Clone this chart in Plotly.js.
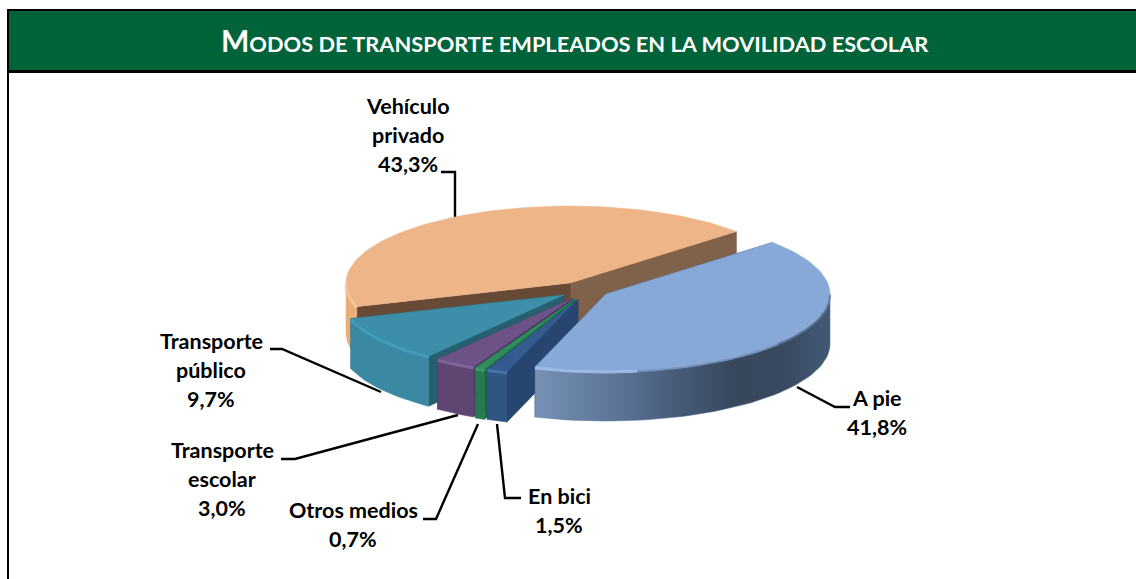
<!DOCTYPE html>
<html>
<head>
<meta charset="utf-8">
<script src="https://cdn.plot.ly/plotly-3.0.1.min.js"></script>
<style>html,body{margin:0;padding:0;background:#fff}#c{width:1136px;height:579px}</style>
</head>
<body>
<div id="c"></div>
<script>
// ---- data ----
const categories = ["A pie", "En bici", "Otros medios", "Transporte escolar", "Transporte público", "Vehículo privado"];
const shares = [41.8, 1.5, 0.7, 3.0, 9.7, 43.3];
const labelLines = [["A pie"], ["En bici"], ["Otros medios"], ["Transporte", "escolar"], ["Transporte", "público"], ["Vehículo", "privado"]];
const titleFirst = "M";
const titleRest = "ODOS DE TRANSPORTE EMPLEADOS EN LA MOVILIDAD ESCOLAR";

// ---- drawing configuration ----
const startAngle = 42, RX = 224, RY = 77, DEPTH = 50;
const apex = [[606, 294], [578, 299], [575, 299], [573, 298], [564, 295], [570, 283]];
const topColor = ["#86a9d8", "#345b8f", "#2f8c5c", "#6d5288", "#3d8ea9", "#edb588"];
const wallColor = ["#506a8a", "#2f5583", "#277a50", "#5f4672", "#3a88a2", "#e9ae78"];
const rimColor = ["#a3c3ee", "#4c77ae", "#3a9f6b", "#846aa3", "#43a2bf", "#f3c8a0"];
const faceColorA = ["#2c4a70", "#27466f", "#1f6a44", "#4c3760", "#265f6e", "#664a35"];
const faceColorB = ["#2c4a70", "#27466f", "#1f6a44", "#4c3760", "#265f6e", "#80624a"];
const labelCenter = [[877, 398], [559, 496], [353, 510], [222, 450], [211, 341], [408, 106]];
const LINE_STEP = 29;
const leaders = [
  [[797, 387], [835, 407], [850, 407]],
  [[497, 424], [505, 498], [521, 498]],
  [[478, 424], [436, 519], [423, 519]],
  [[458, 415], [295, 459], [281, 459]],
  [[381, 392], [282, 349], [270, 349]],
  [[455, 220], [455, 172], [441, 172]]
];

// ---- geometry derived from the shares ----
const total = shares.reduce((a, b) => a + b, 0);
const rad = d => d * Math.PI / 180;
let cur = startAngle;
const spans = shares.map(v => { const a = cur, b = cur - v / total * 360; cur = b; return [a, b]; });
function arc(i, a, b, dz) {
  const n = Math.max(2, Math.ceil(Math.abs(a - b) / 2)), xs = [], ys = [];
  for (let k = 0; k <= n; k++) {
    const t = rad(a + (b - a) * k / n);
    xs.push(apex[i][0] + RX * Math.cos(t));
    ys.push(apex[i][1] - RY * Math.sin(t) + dz);
  }
  return [xs, ys];
}
function poly(xs, ys, color, extra) {
  return Object.assign({ type: "scatter", mode: "lines", x: xs, y: ys, fill: "toself", fillcolor: color,
    line: { color: color, width: 0.5 }, hoverinfo: "skip", showlegend: false }, extra || {});
}
function rimLine(i, a, b, color, width) {
  const [x, y] = arc(i, a, b, 1);
  return { type: "scatter", mode: "lines", x: x, y: y, line: { color: color, width: width }, opacity: 0.85, hoverinfo: "skip", showlegend: false };
}
function face(i, ang, color) {
  const t = rad(ang), cx = apex[i][0], cy = apex[i][1];
  const ex = cx + RX * Math.cos(t), ey = cy - RY * Math.sin(t);
  return poly([cx, ex, ex, cx, cx], [cy, ey, ey + DEPTH, cy + DEPTH, cy], color);
}
const traces = [];
// leader lines go beneath the pie
leaders.forEach(l => traces.push({ type: "scatter", mode: "lines", x: l.map(p => p[0]), y: l.map(p => p[1]),
  line: { color: "#000", width: 2.4 }, hoverinfo: "skip", showlegend: false }));

const paintOrder = [5, 4, 3, 2, 1, 0];
paintOrder.forEach(i => {
  const [a, b] = spans[i];
  traces.push(face(i, b, faceColorB[i]));
  traces.push(face(i, a, faceColorA[i]));
  // outer wall: only the part of the rim that faces the viewer
  const lo = Math.max(b, -180), hi = Math.min(a, 0);
  if (hi > lo) {
    const [tx, ty] = arc(i, hi, lo, 0);
    const [bx, by] = arc(i, lo, hi, DEPTH);
    const xs = tx.concat(bx, [tx[0]]), ys = ty.concat(by, [ty[0]]);
    const extra = i === 0 ? { fillgradient: { type: "horizontal", colorscale: [
      [0, "#7691b6"], [0.27, "#5d7698"], [0.45, "#4a5f7e"], [0.68, "#37475c"], [0.85, "#394a61"], [1, "#435a76"]] } } : {};
    traces.push(poly(xs, ys, wallColor[i], extra));
  }
  const [fx, fy] = arc(i, a, b, 0);
  traces.push(poly([apex[i][0]].concat(fx, [apex[i][0]]), [apex[i][1]].concat(fy, [apex[i][1]]), topColor[i]));
  // bevel light along the visible rim
  if (hi > lo) {
    if (i === 0) {
      traces.push(rimLine(i, 0, -40, "#5f7896", 2));
      traces.push(rimLine(i, -40, -82, "#7f9cc4", 2));
      traces.push(rimLine(i, -82, lo, rimColor[i], 3));
    } else {
      traces.push(rimLine(i, hi, lo, rimColor[i], 3));
    }
  }
});

// ---- labels ----
const annotations = [];
const fontFam = "Lato, Carlito, 'Open Sans', sans-serif";
categories.forEach((c, i) => {
  const lines = labelLines[i].concat([shares[i].toFixed(1).replace(".", ",") + "%"]);
  lines.forEach((txt, k) => annotations.push({ xref: "x", yref: "y", x: labelCenter[i][0], y: labelCenter[i][1] + k * LINE_STEP,
    text: "<b>" + txt + "</b>", showarrow: false, xanchor: "center", yanchor: "middle",
    font: { family: fontFam, size: 21.5, color: "#000" } }));
});
annotations.push({ xref: "x", yref: "y", x: 575, y: 39.5, showarrow: false, xanchor: "center", yanchor: "middle",
  text: "<b><span style=\"font-size:30px\">" + titleFirst + "</span>" + titleRest + "</b>",
  font: { family: fontFam, size: 21.8, color: "#fff" } });

const layout = {
  width: 1136, height: 579, margin: { l: 0, r: 0, t: 0, b: 0, pad: 0 },
  paper_bgcolor: "#fff", plot_bgcolor: "#fff", showlegend: false,
  xaxis: { range: [0, 1136], visible: false, fixedrange: true },
  yaxis: { range: [579, 0], visible: false, fixedrange: true },
  shapes: [
    { type: "rect", xref: "x", yref: "y", x0: 7, x1: 1136, y0: 9, y1: 73, fillcolor: "#000", line: { width: 0 }, layer: "below" },
    { type: "rect", xref: "x", yref: "y", x0: 9, x1: 1136, y0: 11, y1: 70, fillcolor: "#01633a", line: { width: 0 }, layer: "below" },
    { type: "rect", xref: "x", yref: "y", x0: 7, x1: 9, y0: 9, y1: 579, fillcolor: "#000", line: { width: 0 }, layer: "below" }
  ],
  annotations: annotations
};
Plotly.newPlot("c", traces, layout, { displayModeBar: false, staticPlot: true });
</script>
</body>
</html>
